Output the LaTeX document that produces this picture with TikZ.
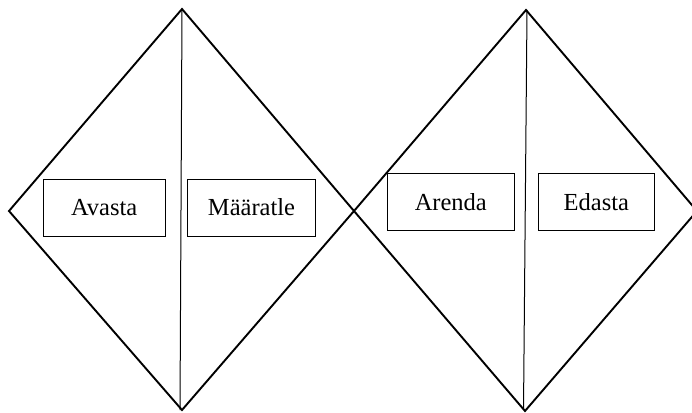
\documentclass[tikz,border=0pt]{standalone}
\usepackage{fontspec}
\setmainfont{Liberation Serif}
\usetikzlibrary{positioning}

\begin{document}
\begin{tikzpicture}[x=1pt,y=-1pt]
%
\useasboundingbox (0,0) rectangle (692,412);
%
\definecolor{cd}{rgb}{0.0,0.0,0.0}
\definecolor{cb}{rgb}{0.0,0.0,0.0}
\tikzset{
  kite/.style={draw=cd,line width=1.9pt,line join=miter},
  split/.style={draw=cd,line width=1pt},
  lbox/.style={draw=cb,line width=1pt,minimum height=57pt,inner sep=0pt,
    font=\fontsize{24.5}{28}\selectfont}
}
%
\coordinate (t0) at (182,9);
\coordinate (l0) at (9,211);
\coordinate (b0) at (182,410);
\coordinate (r0) at (354,211);
\coordinate (s0) at (180,410);
\coordinate (t1) at (526,10);
\coordinate (b1) at (525,411);
\coordinate (r1) at (697,211);
\coordinate (u1) at (527,10);
\coordinate (s1) at (523.5,410);
%
\draw[kite] (t0) -- (l0) -- (b0) -- (r0) -- cycle;
\draw[kite] (t1) -- (r0) -- (b1) -- (r1) -- cycle;
\draw[split] (t0) -- (s0);
\draw[split] (u1) -- (s1);
%
\node[lbox,minimum width=122pt] (avasta) at (104.2,207.6) {Avasta};
\node[lbox,minimum width=128pt] (maaratle) at (251.5,207.6) {Määratle};
\node[lbox,minimum width=127pt] (arenda) at (450.8,202) {Arenda};
\node[lbox,minimum width=116pt] (edasta) at (596.3,202) {Edasta};
%
\end{tikzpicture}
\end{document}
